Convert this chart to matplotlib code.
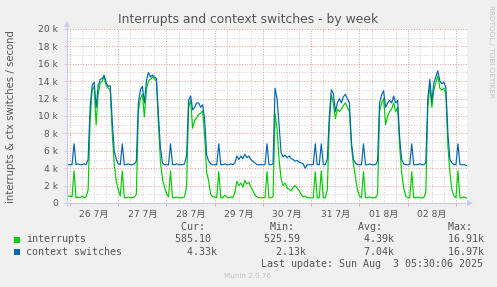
import matplotlib.pyplot as plt
import matplotlib.dates as mdates
from matplotlib.patches import Rectangle
import numpy as np
import pandas as pd

W, H = 497, 287

# hourly averages (thousands / second), first sample 2025-07-25 22:00
irq_jul25 = [0.8, 0.8]
ctx_jul25 = [4.4, 4.4]
irq_jul26 = [0.8, 0.7, 3.7, 0.6, 0.7, 0.6, 0.8, 0.6, 0.7, 1.5, 9.5, 13.0,
             13.4, 9.0, 12.5, 13.8, 14.0, 14.5, 13.5, 13.2, 13.0, 8.0, 4.5, 2.5]
ctx_jul26 = [4.4, 4.4, 6.8, 4.4, 4.5, 4.4, 4.4, 4.5, 4.4, 5.0, 11.0, 13.5,
             13.9, 11.0, 13.5, 14.2, 14.3, 14.7, 13.8, 13.4, 13.5, 9.5, 6.0, 5.0]
irq_jul27 = [1.5, 0.8, 3.7, 0.6, 0.6, 0.7, 0.6, 0.6, 0.7, 1.0, 10.5, 12.0,
             12.5, 9.9, 13.0, 14.0, 14.2, 14.5, 14.3, 14.0, 9.0, 4.7, 2.8, 1.8]
ctx_jul27 = [4.5, 4.4, 6.8, 4.4, 4.4, 4.5, 4.4, 4.4, 4.5, 4.8, 11.5, 13.0,
             13.4, 11.5, 14.0, 15.0, 14.5, 14.7, 14.5, 14.3, 10.0, 6.3, 4.6, 4.4]
irq_jul28 = [1.1, 0.7, 3.7, 0.6, 0.6, 0.7, 0.6, 0.6, 0.6, 0.7, 2.0, 11.0,
             11.8, 8.6, 9.5, 9.8, 10.2, 10.3, 10.6, 7.6, 3.5, 2.5, 1.0, 0.7]
ctx_jul28 = [4.4, 4.4, 6.8, 4.4, 4.4, 4.5, 4.4, 4.4, 4.4, 4.5, 5.5, 11.8,
             12.3, 10.7, 11.0, 11.5, 11.5, 11.0, 11.3, 9.5, 5.5, 4.8, 4.5, 4.4]
irq_jul29 = [0.7, 0.6, 3.6, 0.6, 0.6, 0.9, 0.7, 0.6, 0.7, 0.6, 1.2, 2.5,
             2.0, 2.3, 1.8, 2.6, 2.2, 2.4, 1.8, 1.4, 0.9, 0.7, 0.6, 0.6]
ctx_jul29 = [4.4, 4.4, 6.8, 4.4, 4.4, 4.5, 4.4, 4.4, 4.5, 4.4, 4.6, 5.4,
             5.0, 5.4, 5.1, 5.6, 5.2, 5.4, 5.0, 4.8, 4.6, 4.4, 4.4, 4.4]
irq_jul30 = [0.6, 0.6, 3.6, 0.6, 0.6, 0.7, 10.3, 8.5, 5.0, 2.8, 2.0, 2.3,
             1.7, 1.6, 1.4, 1.8, 2.0, 1.7, 1.4, 1.0, 0.7, 0.8, 0.6, 0.6]
ctx_jul30 = [4.4, 4.4, 6.8, 4.4, 4.4, 4.5, 13.2, 12.0, 9.0, 5.8, 5.3, 5.5,
             5.2, 5.4, 5.1, 5.0, 4.8, 4.9, 4.7, 4.6, 4.5, 4.0, 4.4, 4.4]
irq_jul31 = [0.6, 0.6, 3.6, 0.6, 0.6, 3.7, 0.6, 0.6, 1.5, 9.0, 12.4, 11.5,
             9.7, 10.8, 10.5, 10.8, 11.2, 11.5, 11.0, 10.5, 6.5, 4.5, 3.0, 1.5]
ctx_jul31 = [4.4, 4.4, 6.8, 4.4, 4.4, 6.8, 4.4, 4.4, 5.0, 10.0, 13.0, 12.6,
             10.5, 11.5, 12.0, 11.5, 12.2, 12.5, 12.0, 11.5, 7.0, 5.0, 4.6, 4.4]
irq_aug01 = [0.8, 0.6, 3.6, 0.6, 0.6, 0.7, 0.6, 0.6, 0.6, 1.0, 10.5, 11.5,
             12.0, 9.0, 10.0, 10.5, 10.8, 11.5, 10.5, 11.0, 6.5, 3.5, 1.8, 0.8]
ctx_aug01 = [4.4, 4.4, 6.8, 4.4, 4.4, 4.5, 4.4, 4.4, 4.4, 4.8, 11.5, 12.4,
             12.9, 11.0, 11.5, 11.8, 11.5, 12.3, 11.5, 11.8, 7.5, 5.0, 4.5, 4.4]
irq_aug02 = [0.6, 0.6, 3.6, 0.6, 0.6, 0.7, 0.6, 0.6, 0.6, 1.2, 11.0, 13.5,
             11.0, 13.0, 13.8, 14.6, 13.2, 13.0, 13.2, 12.5, 6.5, 3.5, 1.5, 0.8]
ctx_aug02 = [4.4, 4.4, 6.8, 4.4, 4.4, 4.4, 4.5, 4.4, 4.4, 4.6, 12.0, 14.2,
             11.6, 13.8, 14.5, 15.2, 14.0, 13.7, 13.9, 13.2, 8.0, 5.0, 4.6, 4.4]
irq_aug03 = [0.6, 3.7, 0.6, 0.6, 0.7, 0.585, 0.585]
ctx_aug03 = [4.4, 6.8, 4.4, 4.4, 4.4, 4.33, 4.33]

irq = (irq_jul25 + irq_jul26 + irq_jul27 + irq_jul28 + irq_jul29 + irq_jul30
       + irq_jul31 + irq_aug01 + irq_aug02 + irq_aug03)
ctx = (ctx_jul25 + ctx_jul26 + ctx_jul27 + ctx_jul28 + ctx_jul29 + ctx_jul30
       + ctx_jul31 + ctx_aug01 + ctx_aug02 + ctx_aug03)
times = pd.date_range("2025-07-25 22:00", periods=len(irq), freq="h")

day_starts = pd.date_range("2025-07-26", "2025-08-03", freq="D")
day_labels = ["26 7月", "27 7月", "28 7月", "29 7月",
              "30 7月", "31 7月", "01 8月", "02 8月"]
y_ticks = [0, 2, 4, 6, 8, 10, 12, 14, 16, 18, 20]
y_labels = ["0", "2 k", "4 k", "6 k", "8 k", "10 k", "12 k",
            "14 k", "16 k", "18 k", "20 k"]

names = ["interrupts", "context switches"]
colors = ["#00CC00", "#0066B3"]
cur_vals = ["585.10", "4.33k"]
min_vals = ["525.59", "2.13k"]
avg_vals = ["4.39k", "7.04k"]
max_vals = ["16.91k", "16.97k"]

t_end = pd.Timestamp("2025-08-03 05:30")
t_start = t_end - pd.Timedelta(hours=199)

TXT = "#555555"
MINOR = "#d4d4d4"
MAJOR = "#e6a3a3"


def fx(x):
    return x / W


def fy(y):
    return 1 - y / H


fig = plt.figure(figsize=(W / 100, H / 100), dpi=100, facecolor="#F0F0F0")
ax = fig.add_axes([fx(67), fy(203), 400 / W, 174 / H])
ax.set_facecolor("white")
ax.set_xlim(t_start, t_end)
ax.set_ylim(0, 20)

# grid
for t in pd.date_range("2025-07-25 18:00", t_end, freq="6h"):
    if t.hour != 0:
        ax.axvline(t, color=MINOR, lw=0.75, ls=(0, (1, 1.5)), zorder=1)
for t in day_starts:
    ax.axvline(t, color=MAJOR, lw=0.75, ls=(0, (1, 1.5)), zorder=1.5)
for v in range(1, 21, 2):
    ax.axhline(v, color=MINOR, lw=0.75, ls=(0, (1, 1.5)), zorder=1)
for v in y_ticks[1:]:
    ax.axhline(v, color=MAJOR, lw=0.75, ls=(0, (1, 1.5)), zorder=1.5)

ax.plot(times, irq, color=colors[0], lw=0.85, zorder=3)
ax.plot(times, ctx, color=colors[1], lw=0.85, zorder=4)

for s in ax.spines.values():
    s.set_visible(False)

ax.set_yticks(y_ticks, y_labels)
ax.tick_params(axis="y", length=2, width=0.7, color="#cfcfcf", pad=4.5,
               labelsize=6.6, labelcolor=TXT)
noons = day_starts[:-1] + pd.Timedelta(hours=12)
ax.set_xticks(noons, day_labels)
ax.set_xticks(day_starts, minor=True)
ax.tick_params(axis="x", which="major", length=0, pad=5, labelsize=6.6,
               labelcolor=TXT)
ax.tick_params(axis="x", which="minor", length=2.5, width=0.75, color=MAJOR)
for lab in ax.get_xticklabels():
    lab.set_fontfamily(["DejaVu Sans", "Noto Sans CJK JP"])

# axes with arrows
axis_col = "#c9c9f2"
fig.add_artist(plt.Line2D([fx(64), fx(468)], [fy(203), fy(203)],
                          color=axis_col, lw=0.8))
fig.add_artist(plt.Line2D([fx(67), fx(67)], [fy(206), fy(26)],
                          color=axis_col, lw=0.8))
fig.add_artist(plt.Polygon([[fx(467), fy(200)], [fx(467), fy(206)],
                            [fx(473), fy(203)]], color=axis_col, lw=0))
fig.add_artist(plt.Polygon([[fx(64), fy(27)], [fx(70), fy(27)],
                            [fx(67), fy(21)]], color=axis_col, lw=0))

fig.text(fx(248.5), fy(19), "Interrupts and context switches - by week",
         ha="center", va="center", fontsize=8.9, color=TXT)
fig.text(fx(11), fy(117), "interrupts & ctx switches / second",
         rotation=90, ha="center", va="center", fontsize=7.3, color=TXT)
fig.text(fx(491), fy(5), "RRDTOOL / TOBI OETIKER", rotation=270,
         ha="center", va="top", fontsize=5.2, color="#c4c4c4")

# legend block
mono = dict(family="DejaVu Sans Mono", fontsize=7.2, color=TXT, va="center")
col_x = [175, 264, 352.5, 441.5]
for x, head in zip(col_x, ["Cur:", "Min:", "Avg:", "Max:"]):
    fig.text(fx(x), fy(227), f"{head:>5}", ha="left", **mono)
rows_y = [239.5, 252]
for i, name in enumerate(names):
    y = rows_y[i]
    fig.add_artist(Rectangle((fx(14), fy(y + 3)), 6 / W, 6 / H,
                             color=colors[i], lw=0))
    fig.text(fx(26.5), fy(y), name, ha="left", **mono)
    for x, vals in zip(col_x, [cur_vals, min_vals, avg_vals, max_vals]):
        v = vals[i] if vals[i][-1].isalpha() else vals[i] + " "
        fig.text(fx(x), fy(y), f"{v:>7}", ha="left", **mono)
fig.text(fx(483), fy(264), "Last update: Sun Aug  3 05:30:06 2025",
         ha="right", **mono)
fig.text(fx(248), fy(276), "Munin 2.0.76", ha="center", va="center",
         fontsize=5.2, color="#c4c4c4")

fig.savefig("out.png", dpi=100, facecolor=fig.get_facecolor())
